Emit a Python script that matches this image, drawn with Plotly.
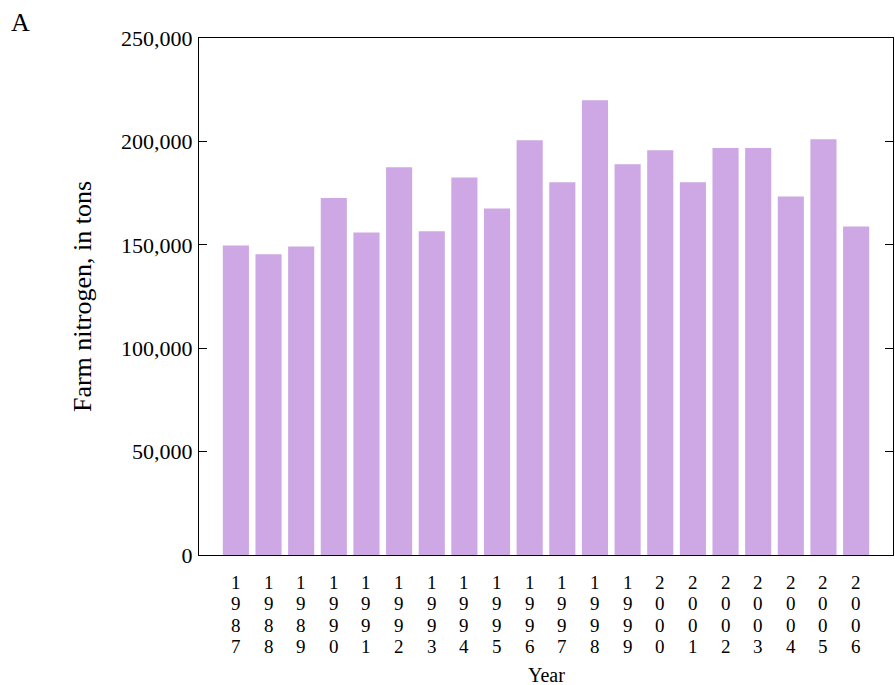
import plotly.graph_objects as go

years = ["1987", "1988", "1989", "1990", "1991", "1992", "1993", "1994", "1995", "1996",
         "1997", "1998", "1999", "2000", "2001", "2002", "2003", "2004", "2005", "2006"]
nitrogen_tons = [149700, 145400, 149200, 172600, 156000, 187500, 156500, 182600, 167600, 200500,
                 180200, 219900, 188900, 195700, 180200, 196800, 196800, 173400, 201000, 158900]
y_tick_values = [0, 50000, 100000, 150000, 200000, 250000]

x_pos = list(range(len(years)))

FONT = "Liberation Serif, Times New Roman, serif"
PLOT_H = 517  # plot area height in px (for paper-relative offsets)
PLOT_W = 694

fig = go.Figure()
fig.add_trace(go.Bar(
    x=x_pos,
    y=nitrogen_tons,
    marker=dict(color="#cda8e5", line=dict(width=0)),
    width=0.8,
))

fig.update_layout(
    width=895,
    height=685,
    margin=dict(l=199, r=2, t=38, b=130, autoexpand=False),
    paper_bgcolor="white",
    plot_bgcolor="white",
    showlegend=False,
    font=dict(family=FONT, color="black"),
)

# Panel letter
fig.add_annotation(
    text="A", xref="paper", yref="paper",
    x=-190 / PLOT_W, y=1 + 32 / PLOT_H,
    xanchor="left", yanchor="top", showarrow=False,
    font=dict(family=FONT, size=26, color="black"),
)

# Year tick labels, written vertically one digit per row
row_offsets = [27, 48.5, 70, 91.5]
for xi, yr in zip(x_pos, years):
    for k, ch in enumerate(yr):
        fig.add_annotation(
            text=ch, x=xi, xref="x", yref="paper",
            y=-row_offsets[k] / PLOT_H,
            xanchor="center", yanchor="middle", showarrow=False,
            font=dict(family=FONT, size=19, color="black"),
        )

# X axis title
fig.add_annotation(
    text="Year", xref="paper", yref="paper",
    x=0.5, y=-120 / PLOT_H,
    xanchor="center", yanchor="middle", showarrow=False,
    font=dict(family=FONT, size=20, color="black"),
)

fig.update_xaxes(
    range=[-1.13, 20.13],
    showticklabels=False,
    ticks="",
    showline=True,
    linecolor="black",
    linewidth=1.3,
    mirror=True,
    showgrid=False,
    zeroline=False,
)

fig.update_yaxes(
    range=[0, 250000],
    tickmode="array",
    tickvals=y_tick_values,
    tickformat=",d",
    ticks="inside",
    ticklen=8,
    tickwidth=1.3,
    tickcolor="black",
    showline=True,
    linecolor="black",
    linewidth=1.3,
    mirror="ticks",
    showgrid=False,
    zeroline=False,
    tickfont=dict(family=FONT, size=22, color="black"),
    ticklabelstandoff=1,
    title=dict(text="Farm nitrogen, in tons", font=dict(family=FONT, size=26, color="black"), standoff=21),
)

fig.write_html(
    "out.html",
    config={"displayModeBar": False},
    post_script="document.body.style.margin='0';",
)
